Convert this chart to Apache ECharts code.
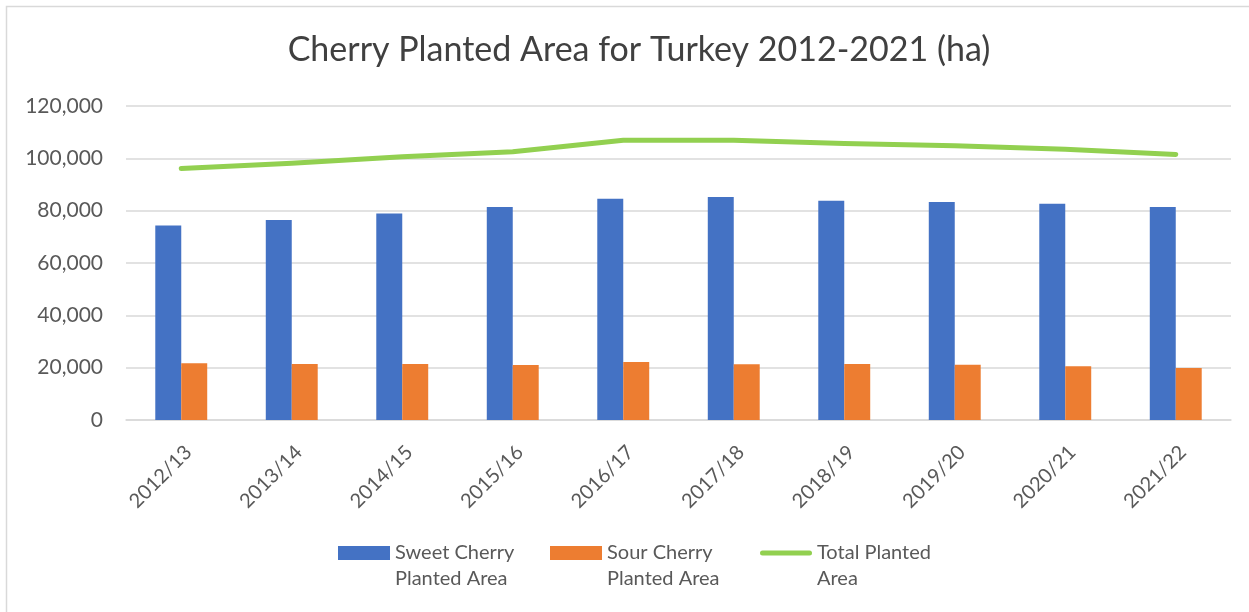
<!DOCTYPE html>
<html>
<head>
<meta charset="utf-8">
<script src="https://cdn.jsdelivr.net/npm/echarts@6/dist/echarts.min.js"></script>
<style>
html,body{margin:0;padding:0;background:#fff;}
#chart{width:1249px;height:612px;}
</style>
</head>
<body>
<div id="chart"></div>
<script>
const categories = ['2012/13','2013/14','2014/15','2015/16','2016/17','2017/18','2018/19','2019/20','2020/21','2021/22'];
const sweetCherry = [74300, 76400, 78900, 81400, 84600, 85200, 83800, 83300, 82600, 81400];
const sourCherry = [21700, 21400, 21400, 21000, 22200, 21300, 21400, 21100, 20500, 19900];
const totalArea = [96100, 98100, 100600, 102500, 106900, 106900, 105700, 104800, 103500, 101500];
const seriesNames = ['Sweet Cherry\nPlanted Area', 'Sour Cherry\nPlanted Area', 'Total Planted\nArea'];

const FONT = 'Lato';
const chart = echarts.init(document.getElementById('chart'));
const legendBase = {
  orient: 'horizontal',
  top: 514,
  padding: 0,
  itemWidth: 52,
  itemHeight: 14,
  itemGap: 0,
  formatter: name => '\n' + name,
  textStyle: { fontFamily: FONT, fontSize: 20, color: '#595959', lineHeight: 26 }
};
chart.setOption({
  animation: false,
  title: {
    text: 'Cherry Planted Area for Turkey 2012-2021 (ha)',
    left: 634, top: 28, textAlign: 'center',
    textStyle: { fontFamily: FONT, fontSize: 34, fontWeight: 'normal', color: '#404040' }
  },
  graphic: [{
    type: 'rect', shape: { x: 6.5, y: 6.5, width: 1400, height: 800 },
    style: { fill: 'none', stroke: '#d9d9d9', lineWidth: 1.5 }, silent: true
  }],
  legend: [
    Object.assign({}, legendBase, { left: 338, data: [{ name: seriesNames[0], icon: 'rect' }] }),
    Object.assign({}, legendBase, { left: 550, data: [{ name: seriesNames[1], icon: 'rect' }] }),
    Object.assign({}, legendBase, { left: 760, itemHeight: 5,
      data: [{ name: seriesNames[2], icon: 'path://M2.5,0 H49.5 A2.5,2.5 0 0 1 49.5,5 H2.5 A2.5,2.5 0 0 1 2.5,0 Z' }] })
  ],
  grid: { left: 126, right: 18, top: 106, bottom: 192 },
  xAxis: {
    type: 'category', data: categories,
    axisLine: { lineStyle: { color: '#d9d9d9', width: 1.5 } },
    axisTick: { show: false },
    axisLabel: { rotate: 45, margin: 22, verticalAlign: 'top', fontFamily: FONT, fontSize: 20, color: '#595959' }
  },
  yAxis: {
    type: 'value', min: 0, max: 120000, interval: 20000,
    axisLine: { show: false }, axisTick: { show: false },
    splitLine: { lineStyle: { color: '#d9d9d9', width: 1.5 } },
    axisLabel: { margin: 23, fontFamily: FONT, fontSize: 21, color: '#595959',
      formatter: v => v.toLocaleString('en-US') }
  },
  series: [
    { name: seriesNames[0], type: 'bar', data: sweetCherry, barGap: '0%', barCategoryGap: '53%',
      itemStyle: { color: '#4472c4' } },
    { name: seriesNames[1], type: 'bar', data: sourCherry, barGap: '0%', barCategoryGap: '53%',
      itemStyle: { color: '#ed7d31' } },
    { name: seriesNames[2], type: 'line', data: totalArea, symbol: 'none', smooth: false,
      lineStyle: { color: '#92d050', width: 5, cap: 'round', join: 'round' }, itemStyle: { color: '#92d050' } }
  ]
});
</script>
</body>
</html>
